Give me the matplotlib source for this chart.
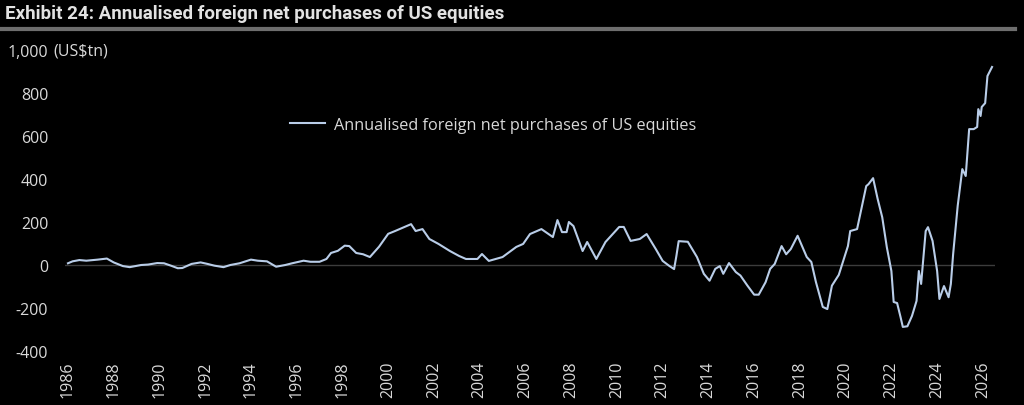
import matplotlib
matplotlib.use("Agg")
import matplotlib.pyplot as plt

# ---- data (decimal year, US$tn) ----
years = [
    1986.0, 1986.2, 1986.5, 1986.8, 1987.3, 1987.7, 1988.0, 1988.4, 1988.7, 1989.2,
    1989.5, 1989.9, 1990.2, 1990.5, 1990.8, 1991.0, 1991.4, 1991.8, 1992.1, 1992.4,
    1992.8, 1993.1, 1993.5, 1994.0, 1994.3, 1994.7, 1995.1, 1995.5, 1995.8, 1996.3,
    1996.6, 1997.0, 1997.3, 1997.5, 1997.8, 1998.1, 1998.3, 1998.6, 1998.9, 1999.2,
    1999.6, 2000.0, 2000.3, 2000.8, 2001.0, 2001.2, 2001.5, 2001.8, 2002.2, 2002.7,
    2003.1, 2003.4, 2003.9, 2004.1, 2004.4, 2005.0, 2005.6, 2005.9, 2006.2, 2006.7,
    2007.2, 2007.4, 2007.6, 2007.8, 2007.9, 2008.1, 2008.5, 2008.7, 2009.1, 2009.5,
    2010.1, 2010.3, 2010.6, 2011.0, 2011.3, 2011.7, 2012.0, 2012.3, 2012.5, 2012.6,
    2012.7, 2013.1, 2013.5, 2013.8, 2014.05, 2014.3, 2014.5, 2014.65, 2014.9, 2015.2,
    2015.4, 2015.7, 2016.0, 2016.2, 2016.5, 2016.7, 2016.9, 2017.2, 2017.4, 2017.6,
    2017.9, 2018.3, 2018.5, 2018.7, 2019.0, 2019.2, 2019.4, 2019.7, 2020.1, 2020.2,
    2020.5, 2020.9, 2021.0, 2021.2, 2021.4, 2021.6, 2021.8, 2022.0, 2022.1, 2022.25,
    2022.4, 2022.5, 2022.7, 2022.9, 2023.1, 2023.2, 2023.3, 2023.5, 2023.6, 2023.8,
    2024.0, 2024.1, 2024.3, 2024.5, 2024.6, 2024.7, 2024.9, 2025.1, 2025.25, 2025.4,
    2025.6, 2025.75, 2025.8, 2025.9, 2025.95, 2026.1, 2026.2, 2026.4,
]
values = [
    8, 17, 23, 20, 25, 30, 12, -5, -10, 0,
    2, 9, 8, -3, -15, -14, 5, 12, 5, -3,
    -10, 0, 8, 25, 20, 17, -8, 0, 8, 20,
    15, 15, 28, 56, 66, 90, 88, 56, 50, 37,
    85, 145, 158, 181, 190, 158, 167, 121, 98, 65,
    42, 28, 28, 51, 19, 37, 84, 98, 144, 167,
    130, 209, 153, 153, 200, 181, 65, 107, 28, 107,
    177, 177, 112, 121, 144, 74, 19, -5, -19, 42,
    111, 108, 37, -41, -73, -18, -5, -41, 9, -33,
    -49, -95, -138, -138, -80, -18, 5, 88, 50, 74,
    136, 37, 14, -79, -195, -205, -96, -46, 88, 158,
    167, 367, 376, 404, 307, 222, 83, -28, -172, -177,
    -242, -288, -285, -237, -167, -28, -88, 158, 176, 112,
    -28, -158, -98, -150, -88, 51, 276, 446, 414, 632,
    632, 642, 725, 693, 735, 753, 879, 921,
]
series_label = "Annualised foreign net purchases of US equities"
title = "Exhibit 24: Annualised foreign net purchases of US equities"
yticks = [-400, -200, 0, 200, 400, 600, 800, 1000]
ytick_labels = ["-400", "-200", "0", "200", "400", "600", "800", "1,000"]
xticks = list(range(1986, 2027, 2))

W, H = 1024, 406
fig = plt.figure(figsize=(W / 100, H / 100), dpi=100, facecolor="black")
ax = fig.add_axes([65 / W, 1 - 352 / H, (995 - 65) / W, (352 - 51) / H])
ax.set_facecolor("black")

line_color = "#b9cde8"
text_color = "#d9d9d9"
font = "Open Sans"

ax.axhline(0, color="#3c3c3c", lw=1.0, zorder=1)
ax.plot(years, values, color=line_color, lw=1.5, label=series_label, zorder=3)

ax.set_xlim(1985.87, 2026.53)
ax.set_ylim(-400, 1000)
ax.set_yticks(yticks)
ax.set_yticklabels(ytick_labels)
ax.set_xticks(xticks)
ax.set_xticklabels([str(x) for x in xticks], rotation=90)
for s in ax.spines.values():
    s.set_visible(False)
ax.tick_params(axis="both", length=0, colors=text_color, labelsize=11.5)
ax.tick_params(axis="y", pad=12)
ax.tick_params(axis="x", pad=7)
for lab in ax.get_xticklabels() + ax.get_yticklabels():
    lab.set_fontfamily(font)

# unit label next to top tick
fig.text(53 / W, 1 - 51 / H, "(US$tn)", color=text_color, fontsize=11.5,
         family=font, ha="left", va="center")

leg = ax.legend(loc="upper left", bbox_to_anchor=((275 - 65) / (995 - 65), (352 - 103) / (352 - 51)),
                frameon=False, handlelength=2.2, handletextpad=0.5,
                prop={"family": font, "size": 11.7})
for t in leg.get_texts():
    t.set_color(text_color)

# title and rule
fig.text(5 / W, 1 - 14 / H, title, color="#e2e2e2", fontsize=13.5,
         family="Roboto", weight="bold", ha="left", va="center")
fig.add_artist(plt.Line2D([0, 1015 / W], [1 - 30 / H, 1 - 30 / H],
                          color="#6e6e6e", lw=3, transform=fig.transFigure))

fig.savefig("out.png", dpi=100, facecolor="black")
